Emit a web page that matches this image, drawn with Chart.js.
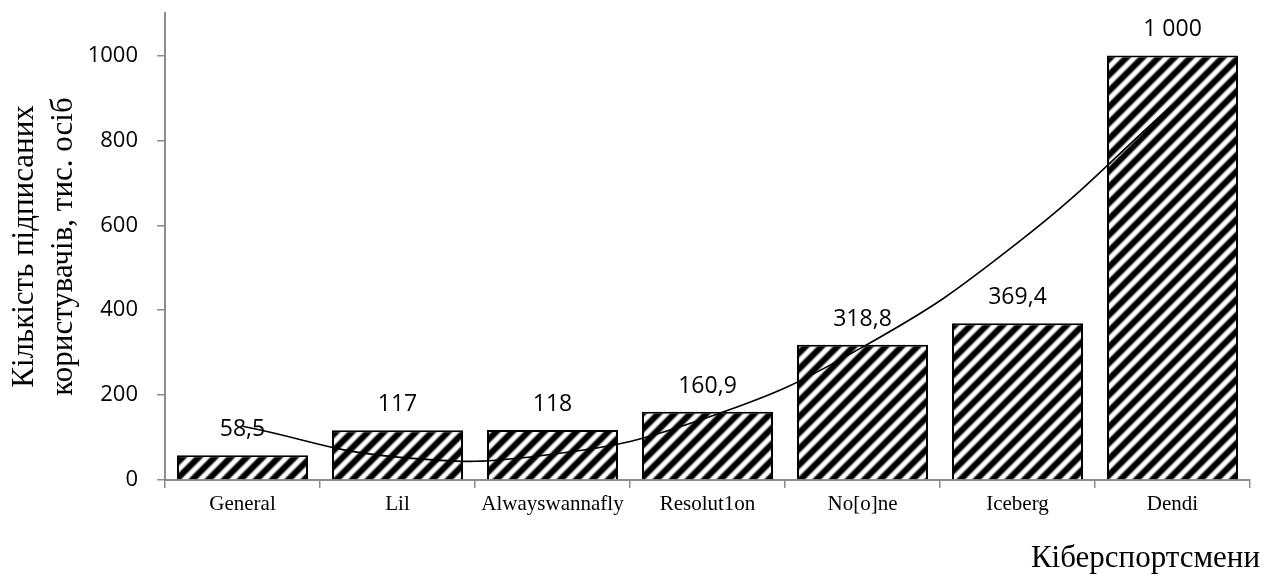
<!DOCTYPE html>
<html>
<head>
<meta charset="utf-8">
<script src="https://cdn.jsdelivr.net/npm/chart.js@4/dist/chart.umd.min.js"></script>
<style>
  html, body { margin: 0; padding: 0; background: #fff; }
  #wrap { width: 1264px; height: 574px; }
</style>
</head>
<body>
<div id="wrap"><canvas id="chart" width="1264" height="574"></canvas></div>
<script>
// Subscribers per esports player, thousands
const players = ['General', 'Lil', 'Alwayswannafly', 'Resolut1on', 'No[o]ne', 'Iceberg', 'Dendi'];
const subscribers = [58.5, 117, 118, 160.9, 318.8, 369.4, 1000];

// Trend curve value at each player
const trendValues = [126.6, 53.9, 60.8, 147.1, 312.9, 558.4, 883.0];

const yTicks = [0, 200, 400, 600, 800, 1000];
const yTitle = ['Кількість підписаних', 'користувачів, тис. осіб'];
const xTitle = 'Кіберспортсмени';

const AXIS_GREY = '#8c8c8c';
const SANS = '"Open Sans", "Noto Sans", sans-serif';
const SERIF = '"Liberation Serif", "DejaVu Serif", serif';

// 1 000 / 160,9 style numbers
function formatValue(v) {
  const parts = String(v).split('.');
  parts[0] = parts[0].replace(/\B(?=(\d{3})+(?!\d))/g, ' ');
  return parts.join(',');
}

// Soft diagonal "/" stripes used as the bar fill
function stripePattern() {
  const p = 16;
  const c = document.createElement('canvas');
  c.width = c.height = p;
  const g = c.getContext('2d');
  const img = g.createImageData(p, p);
  const ss = 4;
  for (let y = 0; y < p; y++) {
    for (let x = 0; x < p; x++) {
      let acc = 0;
      for (let sy = 0; sy < ss; sy++) {
        for (let sx = 0; sx < ss; sx++) {
          const fx = x + (sx + 0.5) / ss, fy = y + (sy + 0.5) / ss;
          const t = (fx + fy) % p;
          const d = Math.min(t, p - t);
          let v;
          if (d < 2.9) v = 0;
          else if (d > 5.9) v = 1;
          else v = (d - 2.9) / 3.0;
          acc += v;
        }
      }
      const val = Math.round(255 * acc / (ss * ss));
      const k = (y * p + x) * 4;
      img.data[k] = img.data[k + 1] = img.data[k + 2] = val;
      img.data[k + 3] = 255;
    }
  }
  g.putImageData(img, 0, 0);
  return document.getElementById('chart').getContext('2d').createPattern(c, 'repeat');
}

const valueLabelPlugin = {
  id: 'valueLabels',
  afterDatasetsDraw(chart) {
    const ctx = chart.ctx;
    const barIndex = chart.data.datasets.findIndex(ds => ds.type === 'bar');
    const meta = chart.getDatasetMeta(barIndex);
    ctx.save();
    ctx.fillStyle = '#000';
    ctx.font = '23px ' + SANS;
    ctx.textAlign = 'center';
    ctx.textBaseline = 'alphabetic';
    meta.data.forEach((bar, i) => {
      ctx.fillText(formatValue(subscribers[i]), bar.x, bar.y - 19);
    });
    ctx.restore();
  }
};

const axisTitlePlugin = {
  id: 'axisTitles',
  afterDraw(chart) {
    const ctx = chart.ctx;
    const area = chart.chartArea;
    ctx.save();
    ctx.fillStyle = '#000';
    ctx.font = '31px ' + SERIF;
    ctx.textAlign = 'right';
    ctx.textBaseline = 'alphabetic';
    ctx.fillText(xTitle, chart.width - 4, 567);
    ctx.translate(0, (area.top + area.bottom) / 2);
    ctx.rotate(-Math.PI / 2);
    ctx.textAlign = 'center';
    ctx.textBaseline = 'middle';
    ctx.fillText(yTitle[0], 0, 25);
    ctx.fillText(yTitle[1], 0, 64);
    ctx.restore();
  }
};

new Chart(document.getElementById('chart'), {
  data: {
    labels: players,
    datasets: [
      {
        type: 'line',
        data: trendValues,
        borderColor: '#000',
        borderWidth: 1.6,
        pointRadius: 0,
        tension: 0.45,
        fill: false,
        order: 1
      },
      {
        type: 'bar',
        data: subscribers,
        backgroundColor: stripePattern(),
        borderColor: '#000',
        borderWidth: 2,
        categoryPercentage: 1,
        barPercentage: 0.845,
        order: 2
      }
    ]
  },
  options: {
    responsive: false,
    animation: false,
    devicePixelRatio: 1,
    layout: { padding: { top: 13, right: 14, left: 0, bottom: 0 } },
    plugins: { legend: { display: false }, tooltip: { enabled: false } },
    scales: {
      x: {
        type: 'category',
        offset: true,
        grid: { offset: true, drawOnChartArea: false, drawTicks: true, tickLength: 8, color: AXIS_GREY, lineWidth: 1.5 },
        border: { color: AXIS_GREY, width: 2 },
        ticks: { color: '#000', font: { family: SERIF, size: 21 }, padding: 4, maxRotation: 0, autoSkip: false },
        afterFit(s) { s.height = 94; s.paddingLeft = 0; s.paddingRight = 0; }
      },
      y: {
        type: 'linear',
        min: 0,
        max: 1100,
        afterBuildTicks(s) { s.ticks = yTicks.map(v => ({ value: v })); },
        grid: { drawOnChartArea: false, drawTicks: true, tickLength: 8, color: AXIS_GREY, lineWidth: 1.5 },
        border: { color: AXIS_GREY, width: 2 },
        ticks: { color: '#000', font: { family: SANS, size: 22 }, padding: 19, callback: v => String(v) },
        afterFit(s) { s.width = 165; s.paddingTop = 0; s.paddingBottom = 0; }
      }
    }
  },
  plugins: [valueLabelPlugin, axisTitlePlugin]
});
</script>
</body>
</html>
